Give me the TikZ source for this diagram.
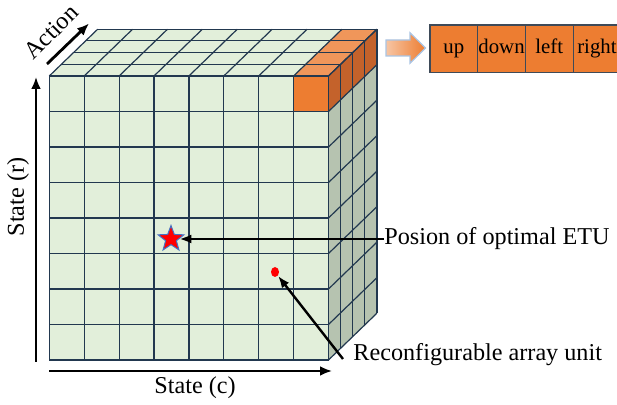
\documentclass[tikz,border=0pt]{standalone}
\usepackage{fontspec}
\setmainfont{Liberation Serif}
\definecolor{gridline}{HTML}{22384F}
\definecolor{cellgreen}{HTML}{E2EFDA}
\definecolor{sidegreen}{HTML}{B6C3B0}
\definecolor{actorange}{HTML}{ED7D31}
\definecolor{toporange}{HTML}{F0965A}
\definecolor{sideorange}{HTML}{C4622B}
\definecolor{starblue}{HTML}{4472C4}
\definecolor{arrowrim}{HTML}{A9C4E4}
\definecolor{boxline}{HTML}{3E4A58}
\usepackage{tikz}
\usetikzlibrary{arrows.meta, positioning, shapes.geometric}

\begin{document}
\begin{tikzpicture}[x=0.5pt, y=-0.5pt,
  grid/.style={draw=gridline, line width=0.6pt},
  axis/.style={line width=1.4pt, -{Latex[length=6pt,width=5pt]}},
  pointer/.style={line width=1.2pt, -{Latex[length=6pt,width=4.5pt]}},
  lbl/.style={font=\fontsize{12.1}{14}\selectfont, inner sep=0pt},
  actbox/.style={draw=boxline, line width=0.6pt, fill=actorange, inner sep=0pt,
                 minimum width=23.85pt, minimum height=23.85pt,
                 text height=7pt, text depth=2.5pt, font=\fontsize{10.4}{12}\selectfont},
]
  \useasboundingbox (0,0) rectangle (617,405);

  % faces of the table
  \fill[cellgreen] (49.3,76) rectangle (328.5,360);
  \fill[actorange] (293.6,76) rectangle (328.5,111.5);
  \fill[cellgreen] (49.3,76) -- (328.5,76) -- (376.9,29.2) -- (97.7,29.2) -- cycle;
  \fill[toporange] (293.6,76) -- (328.5,76) -- (376.9,29.2) -- (342,29.2) -- cycle;
  \fill[sidegreen] (328.5,76) -- (376.9,29.2) -- (376.9,313.2) -- (328.5,360) -- cycle;
  \fill[sideorange] (328.5,76) -- (376.9,29.2) -- (376.9,64.7) -- (328.5,111.5) -- cycle;

  % grid lines
  \foreach \i in {0,...,8} {
    \draw[grid] ({49.3+34.9*\i},76) -- ++(0,284);
    \draw[grid] (49.3,{76+35.5*\i}) -- ++(279.2,0);
    \draw[grid] ({49.3+34.9*\i},76) -- ++(48.4,-46.8);
    \draw[grid] (328.5,{76+35.5*\i}) -- ++(48.4,-46.8);
  }
  \foreach \k in {1,...,4} {
    \draw[grid] ({49.3+12.1*\k},{76-11.7*\k}) -- ++(279.2,0);
    \draw[grid] ({328.5+12.1*\k},{76-11.7*\k}) -- ++(0,284);
  }

  % axes
  \coordinate (rbase) at (36,362);
  \coordinate (rtip) at (36,77);
  \coordinate (cbase) at (49,371);
  \coordinate (ctip) at (332,371);
  \coordinate (abase) at (47,64);
  \coordinate (atip) at (89,23.5);
  \draw[axis] (rbase) -- (rtip);
  \draw[axis] (cbase) -- (ctip);
  \draw[axis] (abase) -- (atip);
  \node[lbl, rotate=90] (rlabel) at (18,197) {State (r)};
  \node[lbl] (clabel) at (195,388) {State (c)};
  \node[lbl, rotate=45] (alabel) at (51,32) {Action};

  % marks
  \node[star, star points=5, star point ratio=2.4, minimum size=13.5pt, inner sep=0pt,
        fill=red, draw=starblue, line width=0.5pt] (optimum) at (171,239) {};
  \node[ellipse, fill=red, minimum width=4pt, minimum height=5pt, inner sep=0pt] (unit) at (275,272) {};
  \node[lbl, anchor=west] (optlabel) at (384,239) {Posion of optimal ETU};
  \node[lbl, anchor=west, inner xsep=5pt] (unitlabel) at (343,355) {Reconfigurable array unit};
  \draw[pointer] (optlabel) -- (optimum);
  \draw[pointer] ([yshift=-2pt]unitlabel.west) -- (unit);

  % action list
  \path[draw=arrowrim, line width=0.6pt, left color=toporange!55, right color=actorange]
    (386,40) -- (410,40) -- (410,32.7) -- (425.5,48) -- (410,63.3) -- (410,56) -- (386,56) -- cycle;
  \foreach \a [count=\i] in {up,down,left,right}
    \node[actbox] (act\i) at ({430+47.7*(\i-0.5)},48.85) {\a};
\end{tikzpicture}
\end{document}
